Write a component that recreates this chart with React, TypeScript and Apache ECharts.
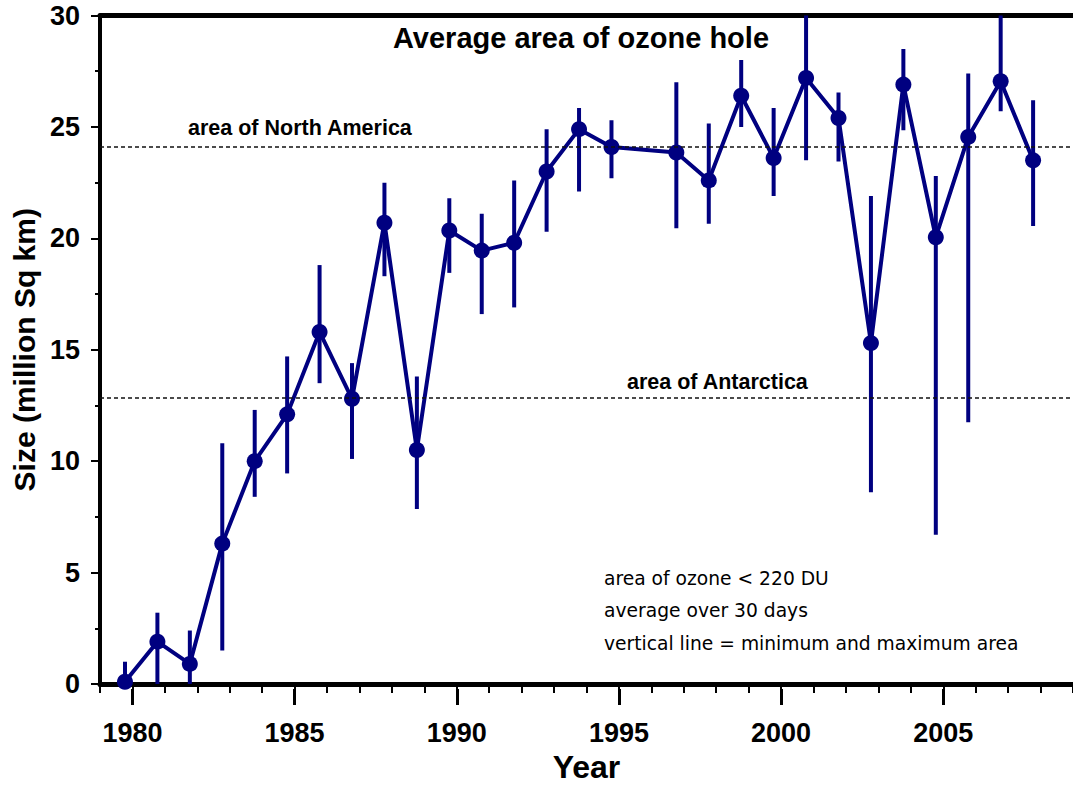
import React, { useEffect, useRef } from 'react';
import * as echarts from 'echarts';

// ---- data ----
const years = [1980, 1981, 1982, 1983, 1984, 1985, 1986, 1987, 1988, 1989, 1990, 1991, 1992, 1993, 1994, 1995, 1997, 1998, 1999, 2000, 2001, 2002, 2003, 2004, 2005, 2006, 2007, 2008];
const meanArea = [0.1, 1.9, 0.9, 6.3, 10.0, 12.1, 15.8, 12.8, 20.7, 10.5, 20.35, 19.45, 19.8, 23.0, 24.9, 24.1, 23.85, 22.6, 26.4, 23.6, 27.2, 25.4, 15.3, 26.9, 20.05, 24.55, 27.05, 23.5];
const minArea = [0, 0, 0, 1.5, 8.4, 9.45, 13.5, 10.1, 18.3, 7.85, 18.45, 16.6, 16.9, 20.3, 22.1, 22.7, 20.45, 20.65, 25.0, 21.9, 23.5, 23.45, 8.6, 24.85, 6.7, 11.75, 25.7, 20.55];
const maxArea = [1.0, 3.2, 2.4, 10.8, 12.3, 14.7, 18.8, 14.4, 22.5, 13.8, 21.8, 21.1, 22.6, 24.9, 25.85, 25.3, 27.0, 25.15, 28.0, 25.85, 30.5, 26.55, 21.9, 28.5, 22.8, 27.4, 30.5, 26.2];
const yearTickLabels = [1980, 1985, 1990, 1995, 2000, 2005];
const northAmericaArea = 24.13;
const antarcticaArea = 12.85;
const yearPlotShift = -0.23; // points sit slightly before the year tick
const titleText = 'Average area of ozone hole';
const refLabels = ['area of North America', 'area of Antarctica'];
const noteLines = ['area of ozone < 220 DU', 'average over 30 days', 'vertical line = minimum and maximum area'];

const NAVY = '#000080';
const FONT = '"Liberation Sans", Arial, sans-serif';

export default function App() {
  const ref = useRef<HTMLDivElement>(null);
  useEffect(() => {
    if (!ref.current) return;
    const chart = echarts.init(ref.current, undefined, { renderer: 'svg' });
    const meanData = years.map((y, i) => [y + yearPlotShift, meanArea[i]]);
    const rangeData = years.map((y, i) => [y + yearPlotShift, minArea[i], maxArea[i]]);
    const boldLabel = { fontFamily: FONT, fontWeight: 'bold' as const, fontSize: 27, color: '#000' };
    const option: any = {
      animation: false,
      backgroundColor: '#fff',
      grid: [
        { left: 100, right: -3, top: 15.5, bottom: 99 },
        { left: 100, right: -3, top: 15.5, bottom: 99 },
      ],
      xAxis: [
        {
          type: 'value', gridIndex: 0, position: 'bottom', min: 1979, max: 2009, interval: 1,
          axisLine: { show: true, onZero: false, lineStyle: { color: '#000', width: 5 } },
          axisTick: { show: true, length: 9, lineStyle: { color: '#000', width: 2 } },
          axisLabel: { show: false }, splitLine: { show: false },
          name: 'Year', nameLocation: 'middle', nameGap: 67,
          nameTextStyle: { fontFamily: FONT, fontWeight: 'bold', fontSize: 32, color: '#000' },
        },
        {
          type: 'value', gridIndex: 0, position: 'top', min: 1979, max: 2009, interval: 1,
          axisLine: { show: true, onZero: false, lineStyle: { color: '#000', width: 5 } },
          axisTick: { show: false }, axisLabel: { show: false }, splitLine: { show: false },
        },
        {
          type: 'value', gridIndex: 1, position: 'bottom', min: 1979, max: 2009, interval: 1,
          axisLine: { show: false, onZero: false },
          axisTick: { show: true, customValues: yearTickLabels, length: 16, lineStyle: { color: '#000', width: 3 } },
          axisLabel: { show: true, customValues: yearTickLabels, margin: 30, formatter: (v: number) => String(v), ...boldLabel },
          splitLine: { show: false },
        },
      ],
      yAxis: [
        {
          type: 'value', gridIndex: 0, min: 0, max: 30, interval: 5,
          axisLine: { show: true, onZero: false, lineStyle: { color: '#000', width: 4 } },
          axisTick: { show: true, length: 9, lineStyle: { color: '#000', width: 2 } },
          minorTick: { show: true, splitNumber: 2, length: 5, lineStyle: { color: '#000', width: 2 } },
          axisLabel: { margin: 20, ...boldLabel },
          splitLine: { show: false }, minorSplitLine: { show: false },
          name: 'Size (million Sq km)', nameLocation: 'middle', nameGap: 59,
          nameTextStyle: { fontFamily: FONT, fontWeight: 'bold', fontSize: 30, color: '#000' },
        },
        { type: 'value', gridIndex: 1, min: 0, max: 30, show: false },
      ],
      series: [
        {
          type: 'custom', xAxisIndex: 0, yAxisIndex: 0, clip: true,
          data: rangeData, encode: { x: 0, y: [1, 2] },
          renderItem: (params: any, api: any) => {
            const x = api.value(0);
            const p1 = api.coord([x, api.value(1)]);
            const p2 = api.coord([x, api.value(2)]);
            return {
              type: 'line',
              shape: { x1: p1[0], y1: p1[1], x2: p2[0], y2: p2[1] },
              style: { stroke: NAVY, lineWidth: 4 },
            };
          },
          z: 2,
        },
        {
          type: 'line', xAxisIndex: 0, yAxisIndex: 0, data: meanData,
          symbol: 'circle', symbolSize: 16, showAllSymbol: true,
          lineStyle: { color: NAVY, width: 4 }, itemStyle: { color: NAVY },
          z: 3,
          markLine: {
            silent: true, symbol: 'none', label: { show: false },
            lineStyle: { color: '#111', width: 1.5, type: [4, 3] },
            data: [{ yAxis: northAmericaArea }, { yAxis: antarcticaArea }],
          },
        },
      ],
      graphic: [
        { type: 'text', x: 581, y: 37.5, style: { text: titleText, font: `bold 29px ${FONT}`, fill: '#000', textAlign: 'center', textVerticalAlign: 'middle' } },
        { type: 'text', x: 188, y: 128.3, style: { text: refLabels[0], font: `bold 21.5px ${FONT}`, fill: '#000', textAlign: 'left', textVerticalAlign: 'middle' } },
        { type: 'text', x: 627, y: 381.7, style: { text: refLabels[1], font: `bold 21.5px ${FONT}`, fill: '#000', textAlign: 'left', textVerticalAlign: 'middle' } },
        ...noteLines.map((t, i) => ({
          type: 'text', x: 604, y: 578 + i * 32.5,
          style: { text: t, font: `18.7px "DejaVu Sans", sans-serif`, fill: '#000', textAlign: 'left', textVerticalAlign: 'middle' },
        })),
      ],
    };
    chart.setOption(option);
    return () => chart.dispose();
  }, []);
  return <div ref={ref} style={{ position: 'absolute', left: 0, top: 0, width: 1073, height: 788 }} />;
}
